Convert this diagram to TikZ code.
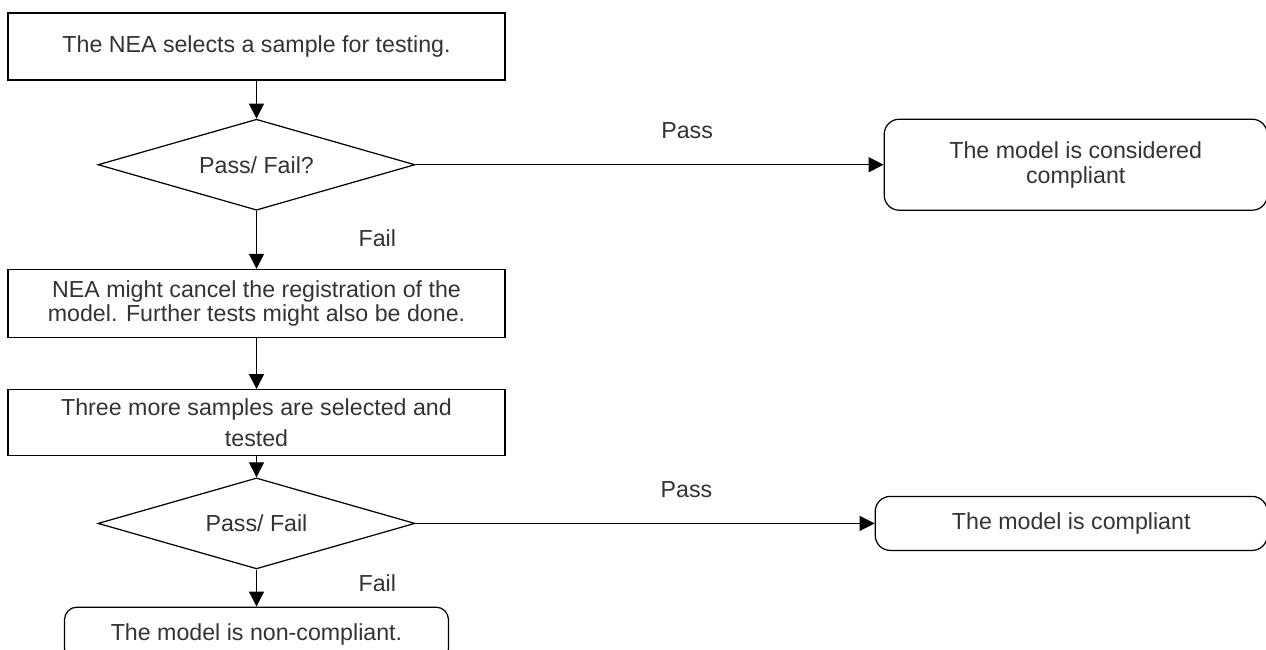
\documentclass[tikz,border=0pt]{standalone}
\usepackage{fontspec}
\setmainfont{Liberation Sans}
\usetikzlibrary{positioning,shapes.geometric,arrows.meta}

\begin{document}
\begin{tikzpicture}[
      box/.style={rectangle,draw,minimum width=9.94cm,align=center,inner sep=0pt},
      check/.style={diamond,draw,aspect=3.48,minimum width=6.34cm,minimum height=1.82cm,inner sep=0pt},
      outcome/.style={rectangle,draw,rounded corners=0.3cm,align=center,inner sep=0pt},
      flow/.style={-{Triangle[length=0.3cm,width=0.3cm]}},
      tag/.style={inner sep=0pt},
      every node/.append style={font=\fontsize{13.2}{14}\selectfont,text=black!80},
      line width=0.7pt]
  \useasboundingbox (0,0) rectangle (25.32,-13);
  \node[box,minimum height=1.34cm] (sel) at (5.13,-0.93) {The NEA selects a sample for testing.};
  \node[check,below=0.76cm of sel] (chk1) {Pass/ Fail?};
  \node[outcome,minimum width=7.66cm,minimum height=1.82cm,right=9.36cm of chk1] (ok1) {The model is considered\\compliant};
  \node[box,minimum height=1.36cm,below=1.16cm of chk1,font=\fontsize{13.2}{11.4}\selectfont] (cancel) {NEA might cancel the registration of the\\model. Further tests might also be done.};
  \node[box,minimum height=1.32cm,below=1.02cm of cancel] (retest) {Three more samples are selected and\\[4pt]tested};
  \node[check,below=0.42cm of retest] (chk2) {Pass/ Fail};
  \node[outcome,minimum width=7.84cm,minimum height=1.08cm,right=9.18cm of chk2] (ok2) {The model is compliant};
  \node[outcome,rounded corners=0.25cm,minimum width=7.68cm,minimum height=1.08cm,below=0.74cm of chk2] (nok) {The model is non-compliant.};
  \draw[flow] (sel) -- (chk1);
  \draw[flow] (chk1) -- node[tag,above=0.5cm,pos=0.58] {Pass} (ok1);
  \draw[flow] (chk1) -- node[tag,right=2.03cm,pos=0.47] {Fail} (cancel);
  \draw[flow] (cancel) -- (retest);
  \draw[flow] (retest) -- (chk2);
  \draw[flow] (chk2) -- node[tag,above=0.5cm,pos=0.59] {Pass} (ok2);
  \draw[flow] (chk2) -- node[tag,right=2.03cm,pos=0.38] {Fail} (nok);
\end{tikzpicture}
\end{document}
